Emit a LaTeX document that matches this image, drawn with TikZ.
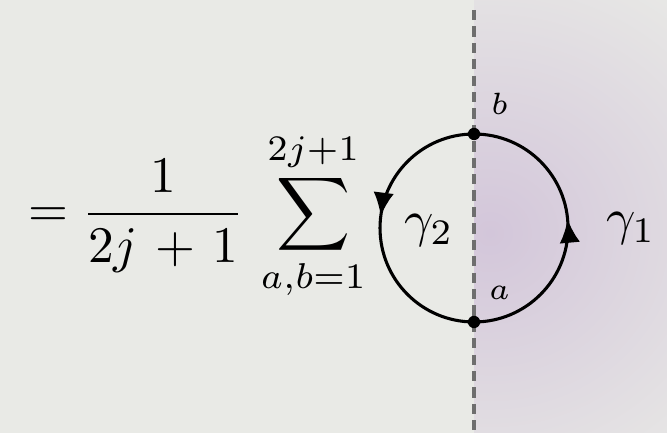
\documentclass[tikz,border=0pt]{standalone}
\usepackage{amsmath}
\usetikzlibrary{arrows.meta,decorations.markings}
\definecolor{paper}{HTML}{E9EAE6}
\definecolor{lilac}{HTML}{D3C6DA}
\definecolor{cutgrey}{HTML}{6E6E6E}

\begin{document}
\begin{tikzpicture}[
  x=0.195pt, y=0.195pt,
  loop/.style={line width=0.6pt},
  cut/.style={cutgrey, line width=0.8pt, dash pattern=on 2pt off 1.2pt},
  pt/.style={circle, fill=black, inner sep=0pt, minimum size=2.4pt},
  ends/.style={font=\fontsize{6}{7}\selectfont, inner sep=0pt, anchor=base west},
  glab/.style={inner sep=0pt, anchor=base west},
  tip/.style={postaction={decorate, decoration={markings,
      mark=at position #1 with {\arrow{Latex[length=4.6pt,width=4pt]}}}}}
]
  \fill[paper] (0,0) rectangle (667,433);
  \useasboundingbox (0,0) rectangle (667,433);

  % shaded half plane
  \begin{scope}
    \clip (474,0) rectangle (667,433);
    \shade[inner color=lilac, outer color=paper] (490,200) ellipse (330 and 310);
  \end{scope}

  \coordinate (top) at (474,423);
  \coordinate (bot) at (474,0);
  \draw[cut] (top) -- (bot);

  \node[inner sep=0pt, anchor=base west] (sum) at (27,206)
    {$\displaystyle = \frac{1}{2j\mskip6mu{+}\mskip6mu1}\,\sum_{a,b=1}^{2j+1}$};

  \node[pt] (b) at (474,299) {};
  \node[pt] (a) at (474,111) {};

  \draw[loop, tip=0.53] (a.center) arc (-90:90:94);
  \draw[loop, tip=0.46] (b.center) arc (90:270:94);

  \node[ends] (blab) at (490,318) {$b$};
  \node[ends] (alab) at (488,133) {$a$};
  \node[glab] (g2) at (403,196) {$\gamma_2$};
  \node[glab] (g1) at (605,198) {$\gamma_1$};
\end{tikzpicture}
\end{document}
